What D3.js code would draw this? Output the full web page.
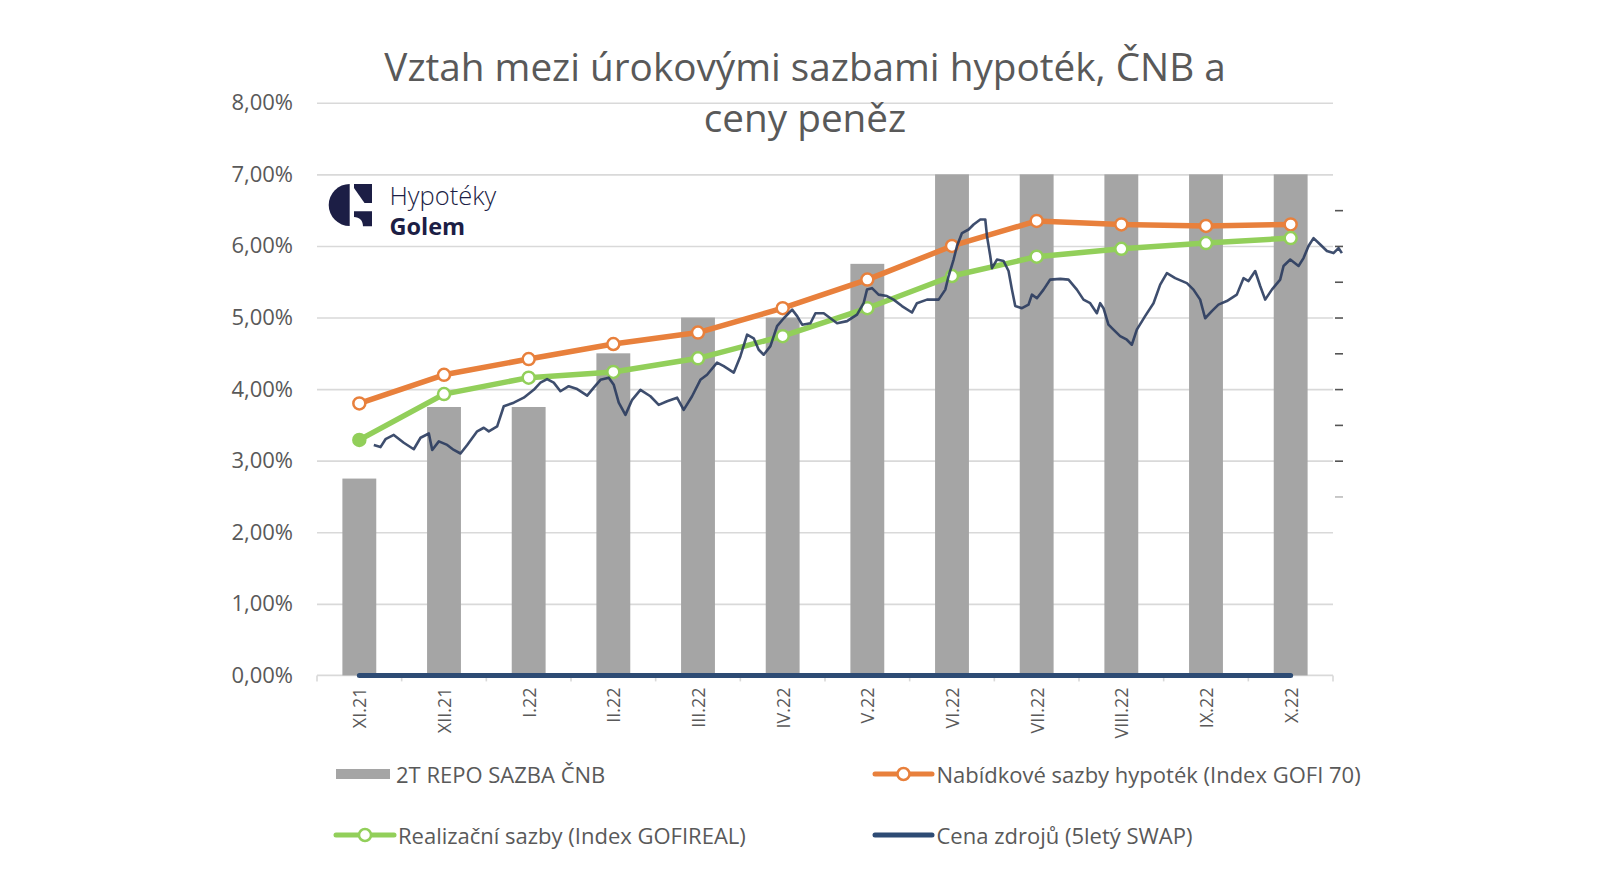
<!DOCTYPE html>
<html>
<head>
<meta charset="utf-8">
<script src="https://cdn.jsdelivr.net/npm/d3@7"></script>
<style>
  html, body { margin: 0; padding: 0; background: #fff; }
  svg { display: block; }
  text { font-family: "Open Sans", "DejaVu Sans", sans-serif; }
</style>
</head>
<body>
<svg id="chart" width="1612" height="876"></svg>
<script>
// ---------------- DATA ----------------
const titleLines = ["Vztah mezi úrokovými sazbami hypoték, ČNB a", "ceny peněz"];
const categories = ["XI.21","XII.21","I.22","II.22","III.22","IV.22","V.22","VI.22","VII.22","VIII.22","IX.22","X.22"];
const repoRate  = [2.75, 3.75, 3.75, 4.50, 5.00, 5.00, 5.75, 7.00, 7.00, 7.00, 7.00, 7.00];
const gofi70    = [3.80, 4.20, 4.42, 4.63, 4.79, 5.13, 5.53, 6.00, 6.35, 6.30, 6.28, 6.30];
const gofiReal  = [3.29, 3.93, 4.16, 4.24, 4.43, 4.74, 5.13, 5.58, 5.85, 5.96, 6.04, 6.11];
const swapMonthly = [0,0,0,0,0,0,0,0,0,0,0,0];
// daily 5Y swap overlay: position in months (0 = XI.21) and value in %
const swapPos = [0.171,0.250,0.309,0.407,0.525,0.643,0.723,0.821,0.861,0.939,1.038,1.116,1.195,1.274,1.392,1.470,1.529,1.628,1.706,1.824,1.942,2.060,2.139,2.218,2.296,2.375,2.473,2.573,2.691,2.769,2.848,2.946,3.005,3.064,3.143,3.222,3.320,3.438,3.536,3.635,3.753,3.831,3.930,4.028,4.107,4.225,4.304,4.422,4.501,4.580,4.658,4.717,4.776,4.855,4.934,5.013,5.112,5.171,5.230,5.328,5.387,5.485,5.564,5.643,5.761,5.878,5.956,5.996,6.055,6.133,6.232,6.310,6.409,6.527,6.586,6.705,6.842,6.921,6.960,7.019,7.059,7.118,7.196,7.255,7.334,7.393,7.413,7.452,7.472,7.531,7.609,7.668,7.708,7.747,7.826,7.904,7.944,8.003,8.081,8.160,8.278,8.376,8.475,8.553,8.632,8.711,8.750,8.789,8.848,8.907,8.986,9.065,9.124,9.183,9.281,9.380,9.459,9.538,9.636,9.774,9.852,9.931,9.990,10.069,10.147,10.246,10.364,10.443,10.502,10.581,10.640,10.699,10.778,10.876,10.916,10.995,11.093,11.152,11.211,11.270,11.349,11.428,11.506,11.565,11.605];
const swapValues = [3.22,3.19,3.30,3.36,3.25,3.16,3.32,3.38,3.15,3.27,3.22,3.15,3.10,3.22,3.41,3.46,3.41,3.48,3.76,3.81,3.88,3.99,4.09,4.14,4.09,3.97,4.04,4.00,3.91,4.02,4.13,4.16,4.06,3.81,3.64,3.85,3.99,3.90,3.78,3.83,3.88,3.71,3.90,4.13,4.20,4.37,4.32,4.23,4.46,4.76,4.71,4.55,4.48,4.60,4.88,4.99,5.11,5.02,4.90,4.92,5.06,5.06,4.99,4.92,4.95,5.04,5.20,5.39,5.41,5.32,5.30,5.25,5.16,5.07,5.20,5.25,5.25,5.39,5.58,5.81,6.00,6.18,6.23,6.30,6.37,6.37,6.14,5.86,5.69,5.81,5.79,5.65,5.39,5.16,5.13,5.18,5.32,5.27,5.39,5.53,5.54,5.53,5.39,5.25,5.20,5.06,5.20,5.13,4.90,4.83,4.74,4.69,4.62,4.83,5.02,5.20,5.46,5.62,5.55,5.48,5.39,5.25,4.99,5.09,5.18,5.23,5.32,5.55,5.51,5.65,5.44,5.25,5.39,5.53,5.72,5.81,5.72,5.83,6.00,6.11,6.02,5.93,5.90,5.97,5.90];
const yTicks = [0,1,2,3,4,5,6,7,8];
const rightTicks = [2.5,3,3.5,4,4.5,5,5.5,6,6.5];
const legendItems = [
  {label: "2T REPO SAZBA ČNB", kind: "bar", color: "#a5a5a5"},
  {label: "Nabídkové sazby hypoték (Index GOFI 70)", kind: "marker", color: "#e8803c"},
  {label: "Realizační sazby (Index GOFIREAL)", kind: "marker", color: "#92cf5a"},
  {label: "Cena zdrojů (5letý SWAP)", kind: "line", color: "#2d4b74"}
];

// ---------------- LAYOUT ----------------
const svg = d3.select("#chart");
const plot = {left: 317, right: 1333, top: 102.8, bottom: 675.4};
const COL = {text: "#595959", grid: "#d9d9d9", bar: "#a5a5a5", orange: "#e8803c", green: "#92cf5a", navy: "#2d4b74", swap: "#2a3b5f", logo: "#1c1e45"};

svg.append("rect").attr("width", 1612).attr("height", 876).attr("fill", "#fff");
const defs = svg.append("defs");
defs.append("filter").attr("id", "soft").attr("x", "-5%").attr("y", "-5%").attr("width", "110%").attr("height", "110%")
  .append("feGaussianBlur").attr("stdDeviation", 0.45);

const x = d3.scaleBand().domain(categories).range([plot.left, plot.right]).paddingInner(0.6).paddingOuter(0.3);
const y = d3.scaleLinear().domain([0, 8]).range([plot.bottom, plot.top]);
const cx = c => x(c) + x.bandwidth() / 2;
const xPos = d3.scaleLinear().domain([0, categories.length - 1]).range([cx(categories[0]), cx(categories[categories.length - 1])]);

// gridlines
const grid = svg.append("g")
  .attr("transform", `translate(${plot.left},0)`)
  .call(d3.axisLeft(y).tickValues(yTicks.filter(d => d > 0)).tickSize(-(plot.right - plot.left)).tickFormat(""));
grid.select(".domain").remove();
grid.selectAll(".tick line").attr("stroke", COL.grid).attr("stroke-width", 1.6);

// y labels
const fmt = d => d3.format(".2f")(d).replace(".", ",") + "%";
const yAx = svg.append("g")
  .attr("transform", `translate(${plot.left},0)`)
  .call(d3.axisLeft(y).tickValues(yTicks).tickSize(0).tickPadding(24).tickFormat(fmt));
yAx.select(".domain").remove();
yAx.selectAll("text").attr("fill", COL.text).style("font-size", "22px").style("font-family", "'Open Sans', sans-serif");

// x axis
const xBoundaries = d3.range(categories.length + 1).map(i => plot.left + (plot.right - plot.left) * i / categories.length);
svg.append("line").attr("x1", plot.left).attr("x2", plot.right).attr("y1", plot.bottom).attr("y2", plot.bottom)
  .attr("stroke", COL.grid).attr("stroke-width", 1.6);
svg.append("g").selectAll("line").data(xBoundaries).join("line")
  .attr("x1", d => d).attr("x2", d => d).attr("y1", plot.bottom).attr("y2", plot.bottom + 6)
  .attr("stroke", COL.grid).attr("stroke-width", 1.6);
svg.append("g").selectAll("text").data(categories).join("text")
  .attr("transform", d => `translate(${cx(d)},${plot.bottom + 12}) rotate(-90)`)
  .attr("text-anchor", "end").attr("dominant-baseline", "central")
  .attr("fill", COL.text).style("font-size", "18px")
  .text(d => d);

// bars
svg.append("g").selectAll("rect").data(categories).join("rect")
  .attr("x", d => x(d)).attr("width", x.bandwidth())
  .attr("y", (d, i) => y(repoRate[i])).attr("height", (d, i) => y(0) - y(repoRate[i]))
  .attr("fill", COL.bar);

// right secondary ticks
const yR = svg.append("g").attr("transform", `translate(${plot.right + 2},0)`)
  .call(d3.axisRight(y).tickValues(rightTicks).tickSize(8).tickFormat(""));
yR.select(".domain").remove();
yR.selectAll(".tick line").attr("stroke", "#555").attr("stroke-width", 1.6)
  .attr("opacity", d => d === 2.5 ? 0.4 : 1);

// line generator
const lineGen = d3.line().x(d => d[0]).y(d => d[1]);

// orange GOFI 70
const orangePts = categories.map((c, i) => [cx(c), y(gofi70[i])]);
svg.append("path").attr("d", lineGen(orangePts)).attr("fill", "none")
  .attr("stroke", COL.orange).attr("stroke-width", 5.5).attr("stroke-linejoin", "round").attr("stroke-linecap", "round");
// green GOFIREAL
const greenPts = categories.map((c, i) => [cx(c), y(gofiReal[i])]);
svg.append("path").attr("d", lineGen(greenPts)).attr("fill", "none")
  .attr("stroke", COL.green).attr("stroke-width", 5.5).attr("stroke-linejoin", "round").attr("stroke-linecap", "round");

svg.append("g").selectAll("circle").data(orangePts).join("circle")
  .attr("cx", d => d[0]).attr("cy", d => d[1]).attr("r", 6)
  .attr("fill", "#fff").attr("stroke", COL.orange).attr("stroke-width", 2.5);
svg.append("g").selectAll("circle").data(greenPts).join("circle")
  .attr("cx", d => d[0]).attr("cy", d => d[1]).attr("r", 6)
  .attr("fill", (d, i) => i === 0 ? COL.green : "#fff").attr("stroke", COL.green).attr("stroke-width", 2.5);

// swap daily overlay
const swapPts = swapPos.map((p, i) => [xPos(p), y(swapValues[i])]);
svg.append("path").attr("d", lineGen(swapPts)).attr("fill", "none")
  .attr("stroke", COL.swap).attr("stroke-width", 2.6).attr("stroke-linejoin", "round").attr("opacity", 0.9)
  .attr("filter", "url(#soft)");

// monthly swap series plotted at zero
const swapZeroPts = categories.map((c, i) => [cx(c), y(swapMonthly[i])]);
svg.append("path").attr("d", lineGen(swapZeroPts)).attr("fill", "none")
  .attr("stroke", COL.navy).attr("stroke-width", 5).attr("stroke-linecap", "round");

// title
svg.append("g").selectAll("text").data(titleLines).join("text")
  .attr("x", 805).attr("y", (d, i) => 80.7 + i * 51)
  .attr("text-anchor", "middle").attr("fill", COL.text)
  .style("font-size", "38.7px")
  .text(d => d);

// logo
const logo = svg.append("g");
logo.append("path").attr("d", "M349.7,184 A21,21 0 0 0 349.7,226 Z").attr("fill", COL.logo);
logo.append("path").attr("d", "M354,184 L372,184 L372,203 L364.5,203 L354,188 Z").attr("fill", COL.logo);
logo.append("path").attr("d", "M354,211.3 L372,211.3 L372,226.3 L363,226.3 C363,220.5 359.5,217 354,217 Z").attr("fill", COL.logo);
logo.append("text").attr("x", 389.5).attr("y", 205).attr("fill", COL.logo)
  .style("font-size", "25.5px").style("font-weight", 300).text("Hypotéky");
logo.append("text").attr("x", 389.5).attr("y", 234.5).attr("fill", COL.logo)
  .style("font-size", "23.5px").style("font-weight", 700).text("Golem");

// legend
const legendPos = [
  {sx: 336, sw: 54, tx: 396, cy: 774},
  {sx: 875, sw: 57, tx: 936.5, cy: 774},
  {sx: 336, sw: 58, tx: 398, cy: 835},
  {sx: 875, sw: 57, tx: 936.5, cy: 835}
];
const lg = svg.append("g").selectAll("g").data(legendItems).join("g");
lg.each(function(d, i) {
  const g = d3.select(this), p = legendPos[i];
  if (d.kind === "bar") {
    g.append("rect").attr("x", p.sx).attr("y", p.cy - 5).attr("width", p.sw).attr("height", 10).attr("fill", d.color);
  } else {
    g.append("line").attr("x1", p.sx).attr("x2", p.sx + p.sw).attr("y1", p.cy).attr("y2", p.cy)
      .attr("stroke", d.color).attr("stroke-width", 5).attr("stroke-linecap", "round");
    if (d.kind === "marker") {
      g.append("circle").attr("cx", p.sx + p.sw / 2).attr("cy", p.cy).attr("r", 6)
        .attr("fill", "#fff").attr("stroke", d.color).attr("stroke-width", 2.5);
    }
  }
  g.append("text").attr("x", p.tx).attr("y", p.cy).attr("dominant-baseline", "central")
    .attr("fill", COL.text).style("font-size", "22px").text(d.label);
});
</script>
</body>
</html>
